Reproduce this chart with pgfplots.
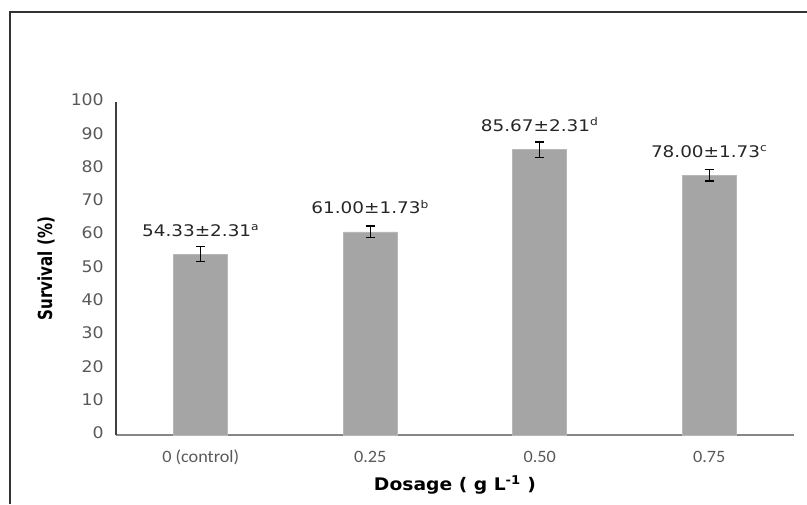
\documentclass[border=0pt]{standalone}
\usepackage{fontspec}
\setmainfont{DejaVu Sans}
\newfontfamily\lblfont{DejaVu Sans}[FakeStretch=1.15]
\newfontfamily\tickfont{DejaVu Sans}[FakeStretch=1.08]
\newfontfamily\xtfont{Carlito}[FakeStretch=1.05]
\newfontfamily\xlabfont{DejaVu Sans}[FakeStretch=1.08]
\newfontfamily\ylabfont{DejaVu Sans}[FakeStretch=0.78]
\usepackage{pgfplots}
\pgfplotsset{compat=1.18}
\definecolor{barfill}{HTML}{A5A5A5}
\definecolor{tickgray}{HTML}{595959}
\definecolor{xaxisgray}{HTML}{868686}
\definecolor{yaxisdark}{HTML}{404040}
\definecolor{framegray}{HTML}{333333}
\definecolor{lblgray}{HTML}{262626}
\begin{document}
\begin{tikzpicture}
\path[use as bounding box] (0,0) rectangle (605.25pt,378pt);
\draw[framegray, line width=1.5pt] (7.5pt,0) -- (7.5pt,369pt) -- (605.25pt,369pt);
\begin{axis}[
  at={(87pt,51.75pt)}, anchor=south west,
  scale only axis, width=508.5pt, height=249.75pt,
  xmin=-0.5, xmax=3.5, ymin=0, ymax=100,
  xtick={0,1,2,3},
  xticklabels={0 (control),0.25,0.50,0.75},
  ytick={0,10,...,100},
  major tick length=0pt,
  axis x line*=bottom, axis y line*=left,
  x axis line style={xaxisgray, line width=1.2pt},
  y axis line style={yaxisdark, line width=1.2pt},
  /pgf/number format/assume math mode=true,
  yticklabel style={font=\tickfont\fontsize{12}{14}\selectfont, text=tickgray, anchor=east, xshift=-9pt, inner sep=0pt},
  xticklabel style={font=\xtfont\fontsize{13}{15}\selectfont, text=tickgray, anchor=base, yshift=-20.25pt, inner sep=0pt},
  typeset ticklabels with strut,
  xlabel={Dosage ( g L\textsuperscript{-1} )},
  xlabel style={font=\xlabfont\bfseries\fontsize{13}{15}\selectfont, at={(axis description cs:0.5,0)}, anchor=base, yshift=-41.25pt, inner sep=0pt},
  ylabel={Survival (\%)},
  ylabel style={font=\ylabfont\bfseries\fontsize{14.5}{16}\selectfont, at={(axis description cs:-0.1032,0.5)}, anchor=center, inner sep=0pt},
  clip=false,
]
\addplot[ybar, bar width=40.5pt, fill=barfill, draw=barfill!80!white,
  error bars/.cd, y dir=both, y explicit,
  error bar style={black, line width=1pt},
  error mark options={black, rotate=90, mark size=3.5pt, line width=1pt}]
  coordinates {(0,54.33) +- (0,2.31) (1,61.00) +- (0,1.73) (2,85.67) +- (0,2.31) (3,78.00) +- (0,1.73)};
\node[anchor=base, inner sep=0pt, yshift=13.5pt, text=lblgray, font=\lblfont\fontsize{12}{14}\selectfont] at (axis cs:0,54.33) {54.33±2.31\textsuperscript{a}};
\node[anchor=base, inner sep=0pt, yshift=13.5pt, text=lblgray, font=\lblfont\fontsize{12}{14}\selectfont] at (axis cs:1,61.00) {61.00±1.73\textsuperscript{b}};
\node[anchor=base, inner sep=0pt, yshift=13.5pt, text=lblgray, font=\lblfont\fontsize{12}{14}\selectfont] at (axis cs:2,85.67) {85.67±2.31\textsuperscript{d}};
\node[anchor=base, inner sep=0pt, yshift=13.5pt, text=lblgray, font=\lblfont\fontsize{12}{14}\selectfont] at (axis cs:3,78.00) {78.00±1.73\textsuperscript{c}};
\end{axis}
\end{tikzpicture}
\end{document}
